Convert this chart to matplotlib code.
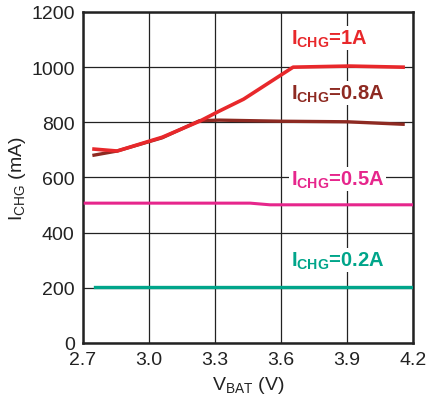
import matplotlib
matplotlib.use("Agg")
import matplotlib.pyplot as plt

plt.rcParams['font.family'] = ['Liberation Sans', 'DejaVu Sans']
plt.rcParams['mathtext.fontset'] = 'custom'
plt.rcParams['mathtext.rm'] = 'Liberation Sans'

# charge current curves vs battery voltage
v_1a = [2.75, 2.855, 3.06, 3.23, 3.32, 3.43, 3.655, 3.91, 4.155]
i_1a = [703, 696, 746, 804, 841, 884, 1000, 1004, 1000]

v_08a = [2.75, 2.855, 3.06, 3.23, 3.32, 3.6, 3.9, 4.155]
i_08a = [681, 696, 744, 806, 808, 804, 802, 793]

v_05a = [2.71, 3.0, 3.3, 3.46, 3.55, 3.9, 4.2]
i_05a = [507, 507, 507, 507, 501, 501, 501]

v_02a = [2.755, 3.0, 3.5, 4.0, 4.2]
i_02a = [203, 203, 203, 203, 203]

x_ticks = [2.7, 3.0, 3.3, 3.6, 3.9, 4.2]
x_ticklabels = ['2.7', '3.0', '3.3', '3.6', '3.9', '4.2']
y_ticks = [0, 200, 400, 600, 800, 1000, 1200]

labels = [r'I$_\mathregular{CHG}$=1A', r'I$_\mathregular{CHG}$=0.8A',
          r'I$_\mathregular{CHG}$=0.5A', r'I$_\mathregular{CHG}$=0.2A']
label_pos = [(3.645, 1105), (3.645, 905), (3.645, 595), (3.645, 300)]
colors = ['#e8282b', '#8e2a22', '#e6268c', '#00a58a']

fig = plt.figure(figsize=(4.29, 4.14), dpi=100)
ax = fig.add_axes([0.1935, 0.1691, 0.7692, 0.7995])

ax.plot(v_08a, i_08a, color=colors[1], lw=2.4, zorder=3)
ax.plot(v_1a, i_1a, color=colors[0], lw=2.6, zorder=4)
ax.plot(v_05a, i_05a, color=colors[2], lw=2.2, zorder=3)
ax.plot(v_02a, i_02a, color=colors[3], lw=2.4, zorder=3)

for lab, (x, y), c in zip(labels, label_pos, colors):
    ax.text(x, y, lab, color=c, fontsize=14.5, fontweight='bold', va='center', ha='left',
            bbox=dict(facecolor='white', edgecolor='none', pad=1), zorder=5)

ax.set_xlim(2.7, 4.2)
ax.set_ylim(0, 1200)
ax.set_xticks(x_ticks)
ax.set_xticklabels(x_ticklabels)
ax.set_yticks(y_ticks)
ax.tick_params(length=0, labelsize=14, colors='#222222', pad=6)
ax.grid(True, color='#222222', lw=0.9)
for s in ax.spines.values():
    s.set_linewidth(1.8)
    s.set_color('#222222')

ax.set_xlabel(r'V$_{\mathregular{BAT}}$ (V)', fontsize=14, color='#222222', labelpad=4)
ax.set_ylabel(r'I$_{\mathregular{CHG}}$ (mA)', fontsize=14, color='#222222', labelpad=2)

fig.savefig('out.png', dpi=100)
